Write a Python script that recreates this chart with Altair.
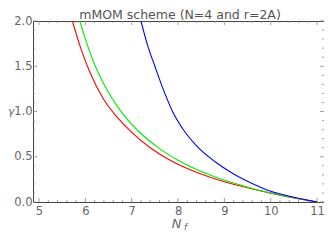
import altair as alt
import pandas as pd

# Data (estimated)
red_nf = [5.72, 5.90, 6.10, 6.40, 6.70, 7.00, 7.40, 7.80, 8.20, 8.60, 9.00, 9.50, 10.00, 10.50, 11.00]
red_g = [2.00, 1.70, 1.43, 1.13, 0.93, 0.77, 0.60, 0.47, 0.37, 0.29, 0.224, 0.158, 0.098, 0.046, 0.0]

green_nf = [5.88, 6.00, 6.20, 6.50, 6.80, 7.20, 7.60, 8.00, 8.40, 8.80, 9.20, 9.60, 10.00, 10.50, 11.00]
green_g = [2.00, 1.80, 1.52, 1.21, 0.98, 0.757, 0.59, 0.461, 0.358, 0.277, 0.209, 0.150, 0.100, 0.047, 0.0]

blue_nf = [7.20, 7.35, 7.50, 7.70, 7.90, 8.10, 8.40, 8.80, 9.20, 9.60, 10.00, 10.50, 11.00]
blue_g = [2.00, 1.72, 1.50, 1.22, 0.98, 0.81, 0.62, 0.445, 0.31, 0.205, 0.118, 0.052, 0.0]

x_major = [5, 6, 7, 8, 9, 10, 11]
x_minor = [round(5 + 0.2 * i, 2) for i in range(31) if i % 5 != 0]
y_major = [0.0, 0.5, 1.0, 1.5, 2.0]
y_minor = [round(0.1 * i, 2) for i in range(21) if i % 5 != 0]

rows = []
for name, xs_, ys_ in [("red", red_nf, red_g), ("green", green_nf, green_g), ("blue", blue_nf, blue_g)]:
    for i, (a, b) in enumerate(zip(xs_, ys_)):
        rows.append({"series": name, "Nf": a, "gamma": b, "order": i})
df = pd.DataFrame(rows)

xdom = [4.87, 11.15]
ydom = [0, 2.0]
W, H = 291, 181

xs = alt.Scale(domain=xdom, nice=False, zero=False)
ys = alt.Scale(domain=ydom, nice=False)
FONT = "DejaVu Sans"
GRAY = "#666666"

lines = alt.Chart(df).mark_line(strokeWidth=1.1, clip=True, interpolate="monotone").encode(
    x=alt.X("Nf:Q", scale=xs, axis=alt.Axis(values=x_major, format="d", title=None, tickSize=0,
                                           labelPadding=3, labelFontSize=11.5, labelColor=GRAY,
                                           labelFont=FONT, domain=False, grid=False)),
    y=alt.Y("gamma:Q", scale=ys, axis=alt.Axis(values=y_major, format=".1f", title=None, tickSize=0,
                                              labelPadding=1, labelFontSize=11.5, labelColor=GRAY,
                                              labelFont=FONT, domain=False, grid=False)),
    color=alt.Color("series:N", scale=alt.Scale(domain=["red", "green", "blue"],
                                                range=["#ff0000", "#00ee00", "#0000ff"]), legend=None),
    order="order:Q",
)

def xticks(vals, length):
    d = pd.DataFrame({"v": vals})
    bot = alt.Chart(d).mark_rule(color="#888888", strokeWidth=0.8).encode(
        x=alt.X("v:Q", scale=xs), y=alt.value(H), y2=alt.value(H - length))
    top = alt.Chart(d).mark_rule(color="#888888", strokeWidth=0.8).encode(
        x=alt.X("v:Q", scale=xs), y=alt.value(0), y2=alt.value(length))
    return bot + top

def yticks(vals, length):
    d = pd.DataFrame({"v": vals})
    left = alt.Chart(d).mark_rule(color="#888888", strokeWidth=0.8).encode(
        y=alt.Y("v:Q", scale=ys), x=alt.value(0), x2=alt.value(length))
    right = alt.Chart(d).mark_rule(color="#888888", strokeWidth=0.8).encode(
        y=alt.Y("v:Q", scale=ys), x=alt.value(W), x2=alt.value(W - length))
    return left + right

ticks = xticks(x_major, 4) + xticks(x_minor, 2) + yticks(y_major, 4) + yticks(y_minor, 2)

lab = pd.DataFrame({"t": ["x"]})
title = alt.Chart(lab).mark_text(fontSize=12.5, font=FONT, color="#555555",
                                 align="center", baseline="alphabetic").encode(
    x=alt.value(147), y=alt.value(-2.5), text=alt.value("mMOM scheme (N=4 and r=2A)"))
nlabel = alt.Chart(lab).mark_text(fontSize=13, fontStyle="italic", font=FONT, color=GRAY,
                                  align="center", baseline="alphabetic").encode(
    x=alt.value(143.5), y=alt.value(H + 25.5), text=alt.value("N"))
flabel = alt.Chart(lab).mark_text(fontSize=9, fontStyle="italic", font=FONT, color=GRAY,
                                  align="left", baseline="alphabetic").encode(
    x=alt.value(151), y=alt.value(H + 27.5), text=alt.value("f"))
glabel = alt.Chart(lab).mark_text(fontSize=11, fontStyle="italic", font=FONT, color=GRAY,
                                  align="left", baseline="middle").encode(
    x=alt.value(-25), y=alt.value(91), text=alt.value("γ"))

chart = alt.layer(ticks, lines, title, nlabel, flabel, glabel).properties(
    width=W, height=H,
    autosize=alt.AutoSizeParams(type="none"),
    padding={"left": 25, "top": 13, "right": 0, "bottom": 28},
).configure_view(stroke="#444444", strokeWidth=1)

chart.save("out.html", embed_options={"renderer": "svg", "actions": False})
